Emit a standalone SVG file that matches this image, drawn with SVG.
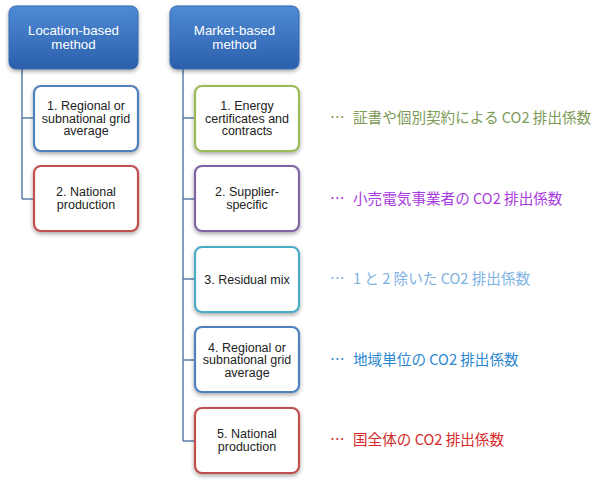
<svg xmlns="http://www.w3.org/2000/svg" width="608" height="483" viewBox="0 0 608 483">
<defs>
<linearGradient id="hg" x1="0" y1="0" x2="0" y2="1">
<stop offset="0" stop-color="#4f8ad6"/>
<stop offset="1" stop-color="#2b5fab"/>
</linearGradient>
<filter id="sh" x="-10%" y="-10%" width="130%" height="140%">
<feGaussianBlur in="SourceAlpha" stdDeviation="2"/>
<feOffset dx="0" dy="2" result="b"/>
<feComponentTransfer><feFuncA type="linear" slope="0.35"/></feComponentTransfer>
<feMerge><feMergeNode/><feMergeNode in="SourceGraphic"/></feMerge>
</filter>
</defs>
<style>
.hd{fill:url(#hg);stroke:#3468b0;stroke-width:1;filter:url(#sh)}
.ch{fill:#fff;stroke-width:2.2;filter:url(#sh)}
.ht{font-family:"Liberation Sans",Arial,sans-serif;font-size:13.3px;fill:#fff;text-anchor:middle}
.ct{font-family:"Liberation Sans",Arial,sans-serif;font-size:12.5px;fill:#222;text-anchor:middle}
.jp{font-family:"Noto Sans CJK JP","Noto Sans",sans-serif;font-size:14.6px}
.cn{fill:none;stroke:#5a7ea8;stroke-width:1.5}
</style>
<g id="connectors">
<path class="cn" d="M22 69 V199 M22 118 H34 M22 199 H34"/>
<path class="cn" d="M183 69 V441 M183 118 H195 M183 199 H195 M183 279 H195 M183 360 H195 M183 441 H195"/>
</g>
<g id="loc-header">
<rect class="hd" x="9" y="6" width="129" height="63" rx="7"/>
<text class="ht" x="73.5" y="34.5">Location-based</text>
<text class="ht" x="73.5" y="48.5">method</text>
</g>
<g id="loc-1">
<rect class="ch" x="34" y="86" width="104" height="65" rx="7" stroke="#4f81bd"/>
<text class="ct" x="86" y="110">1. Regional or</text>
<text class="ct" x="86" y="122.7">subnational grid</text>
<text class="ct" x="86" y="135.4">average</text>
</g>
<g id="loc-2">
<rect class="ch" x="34" y="166" width="104" height="65" rx="7" stroke="#c0504d"/>
<text class="ct" x="86" y="196">2. National</text>
<text class="ct" x="86" y="208.7">production</text>
</g>
<g id="mkt-header">
<rect class="hd" x="170" y="6" width="129" height="63" rx="7"/>
<text class="ht" x="234.5" y="34.5">Market-based</text>
<text class="ht" x="234.5" y="48.5">method</text>
</g>
<g id="mkt-1">
<rect class="ch" x="195" y="86" width="104" height="65" rx="7" stroke="#9bbb59"/>
<text class="ct" x="247" y="110">1. Energy</text>
<text class="ct" x="247" y="122.7">certificates and</text>
<text class="ct" x="247" y="135.4">contracts</text>
</g>
<g id="mkt-2">
<rect class="ch" x="195" y="166" width="104" height="65" rx="7" stroke="#8064a2"/>
<text class="ct" x="247" y="196">2. Supplier-</text>
<text class="ct" x="247" y="208.7">specific</text>
</g>
<g id="mkt-3">
<rect class="ch" x="195" y="247" width="104" height="65" rx="7" stroke="#4bacc6"/>
<text class="ct" x="247" y="283.5">3. Residual mix</text>
</g>
<g id="mkt-4">
<rect class="ch" x="195" y="327" width="104" height="65" rx="7" stroke="#4f81bd"/>
<text class="ct" x="247" y="351.5">4. Regional or</text>
<text class="ct" x="247" y="364.2">subnational grid</text>
<text class="ct" x="247" y="376.9">average</text>
</g>
<g id="mkt-5">
<rect class="ch" x="195" y="408" width="104" height="65" rx="7" stroke="#c0504d"/>
<text class="ct" x="247" y="438">5. National</text>
<text class="ct" x="247" y="450.7">production</text>
</g>
<g id="notes">
<text class="jp" y="123" fill="#7d9a55"><tspan x="330">…</tspan><tspan x="353">証書や個別契約による CO2 排出係数</tspan></text>
<text class="jp" y="204" fill="#a83ae0"><tspan x="330">…</tspan><tspan x="353">小売電気事業者の CO2 排出係数</tspan></text>
<text class="jp" y="284" fill="#7db2e3"><tspan x="330">…</tspan><tspan x="353">1 と 2 除いた CO2 排出係数</tspan></text>
<text class="jp" y="365" fill="#2a86cf"><tspan x="330">…</tspan><tspan x="353">地域単位の CO2 排出係数</tspan></text>
<text class="jp" y="445" fill="#d42a2a"><tspan x="330">…</tspan><tspan x="353">国全体の CO2 排出係数</tspan></text>
</g>
</svg>
